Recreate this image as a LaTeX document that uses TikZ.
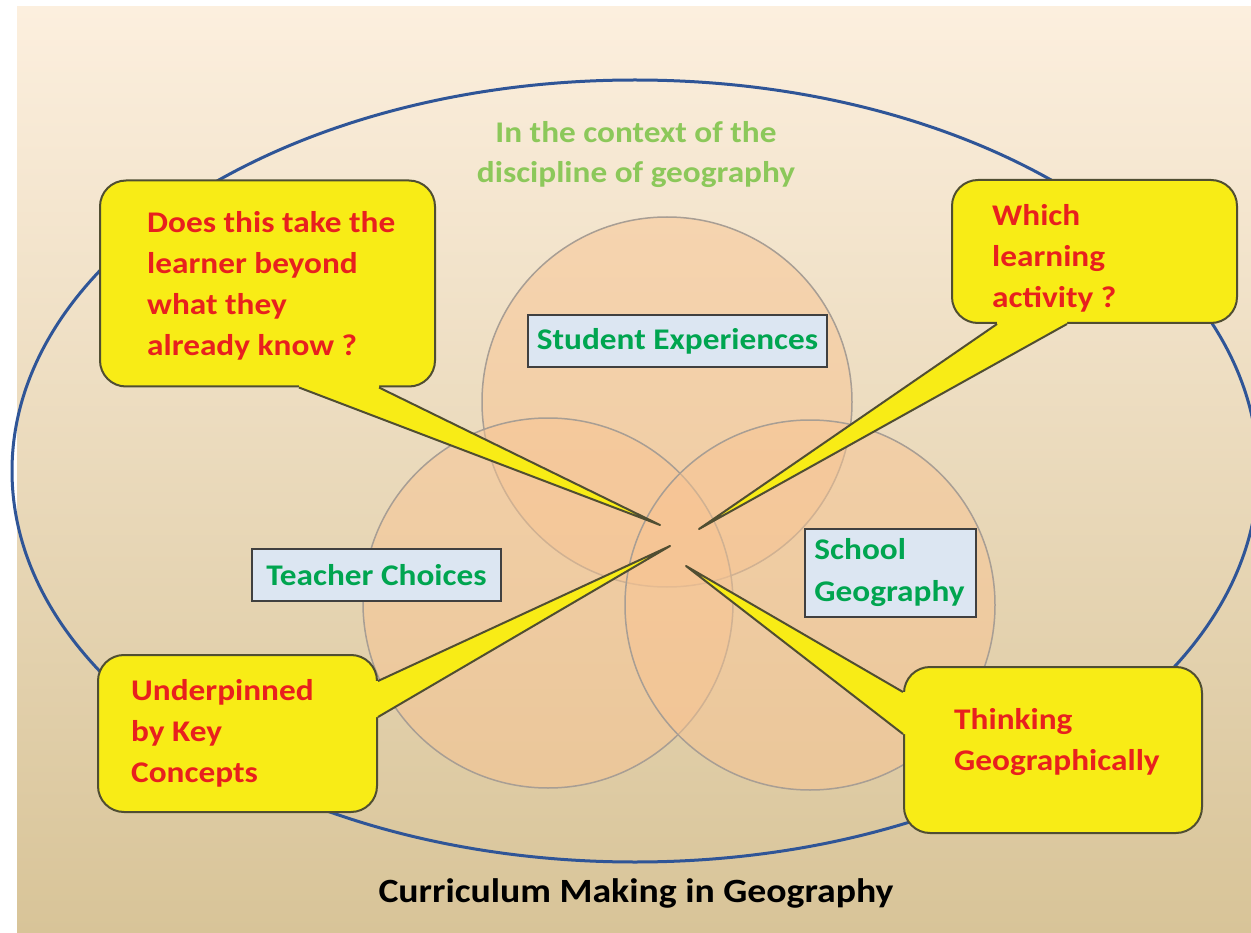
\documentclass[tikz,border=0pt]{standalone}
\usepackage{fontspec}
\setmainfont{Carlito}[FakeStretch=1.11]
\usetikzlibrary{positioning}
\definecolor{bgtop}{RGB}{252,239,222}
\definecolor{bgmid}{RGB}{243,237,216}
\definecolor{bgbot}{RGB}{216,196,152}
\definecolor{rimblue}{RGB}{47,85,151}
\definecolor{vennfill}{RGB}{248,196,146}
\definecolor{vennline}{RGB}{168,158,148}
\definecolor{tagfill}{RGB}{220,230,242}
\definecolor{tagline}{RGB}{64,64,64}
\definecolor{taggreen}{RGB}{0,165,80}
\definecolor{ctxgreen}{RGB}{140,200,90}
\definecolor{questfill}{RGB}{248,236,22}
\definecolor{questline}{RGB}{80,78,50}
\definecolor{questred}{RGB}{232,32,30}

\begin{document}
\begin{tikzpicture}[x=1pt, y=-1pt,
	venn/.style={draw=vennline, fill=vennfill, fill opacity=0.5, line width=1.5pt},
	tag/.style={draw=tagline, fill=tagfill, line width=1.5pt, inner sep=0pt, text=taggreen, font=\bfseries\fontsize{30}{42}\selectfont},
	quest/.style={draw=questline, fill=questfill, line width=2pt, rounded corners=26pt, inner sep=0pt},
	questtext/.style={inner sep=0pt, align=left, text=questred, font=\bfseries\fontsize{30}{41}\selectfont},
	tail/.style={draw=questline, line width=2pt, line join=round}]
	\useasboundingbox (0,0) rectangle (1251,933);
	\shade[top color=bgtop, middle color=bgmid, bottom color=bgbot] (17,7) rectangle (1251,933);
	\draw[rimblue, line width=3pt] (635,471) ellipse [x radius=623pt, y radius=391pt];
	\node[inner sep=0pt, align=center, text=ctxgreen, font=\bfseries\fontsize{30}{40}\selectfont] (ctx) at (636,155) {In the context of the\\discipline of geography};

	\draw[venn] (667,402) circle [radius=185pt];
	\draw[venn] (548,603) circle [radius=185pt];
	\draw[venn] (810,605) circle [radius=185pt];
	\node[tag, minimum width=299pt, minimum height=52pt] (student) at (677.5,341) {Student Experiences};
	\node[tag, minimum width=249pt, minimum height=52pt] (teacher) at (376.5,575) {Teacher Choices};
	\node[tag, minimum width=171pt, minimum height=88pt] (school) at (890.5,573) {};
	\node[inner sep=0pt, align=left, text=taggreen, font=\bfseries\fontsize{30}{42}\selectfont, right=10pt of school.west] (schooltext) {School\\Geography};

	\node[quest, minimum width=335pt, minimum height=206pt] (q1) at (267.5,283.5) {};
	\node[quest, minimum width=285pt, minimum height=143pt] (q2) at (1094.5,251.5) {};
	\node[quest, minimum width=279pt, minimum height=157pt] (q3) at (237.5,733.5) {};
	\node[quest, minimum width=298pt, minimum height=166pt] (q4) at (1053,750) {};

	\coordinate (t1) at (660,525);
	\coordinate (t2) at (699,529);
	\coordinate (t3) at (670,546);
	\coordinate (t4) at (686,566);
	\coordinate (a1) at ([xshift=200pt]q1.south west);
	\coordinate (b1) at ([xshift=280pt]q1.south west);
	\coordinate (a2) at ([xshift=46pt]q2.south west);
	\coordinate (b2) at ([xshift=116pt]q2.south west);
	\coordinate (a3) at ([yshift=-27pt]q3.north east);
	\coordinate (b3) at ([yshift=-63pt]q3.north east);
	\coordinate (a4) at ([yshift=-26pt]q4.north west);
	\coordinate (b4) at ([yshift=-68pt]q4.north west);

	\fill[questfill] (a1) -- (t1) -- (b1) -- ([yshift=4pt]b1) -- ([yshift=4pt]a1) -- cycle;
	\draw[tail] (a1) -- (t1) -- (b1);
	\fill[questfill] (a2) -- (t2) -- (b2) -- ([yshift=4pt]b2) -- ([yshift=4pt]a2) -- cycle;
	\draw[tail] (a2) -- (t2) -- (b2);
	\fill[questfill] (a3) -- (t3) -- (b3) -- ([xshift=-4pt]b3) -- ([xshift=-4pt]a3) -- cycle;
	\draw[tail] (a3) -- (t3) -- (b3);
	\fill[questfill] (a4) -- (t4) -- (b4) -- ([xshift=4pt]b4) -- ([xshift=4pt]a4) -- cycle;
	\draw[tail] (a4) -- (t4) -- (b4);

	\node[questtext, right=48pt of q1.west, yshift=-2.5pt] (q1text) {Does this take the\\learner beyond\\what they\\already know ?};
	\node[questtext, right=41pt of q2.west, yshift=-6.5pt] (q2text) {Which\\learning\\activity ?};
	\node[questtext, right=34pt of q3.west] (q3text) {Underpinned\\by Key\\Concepts};
	\node[questtext, right=51pt of q4.west, yshift=8pt] (q4text) {Thinking\\Geographically};

	\node[inner sep=0pt, font=\bfseries\fontsize{34}{40}\selectfont] (title) at (636,893) {Curriculum Making in Geography};
\end{tikzpicture}
\end{document}
